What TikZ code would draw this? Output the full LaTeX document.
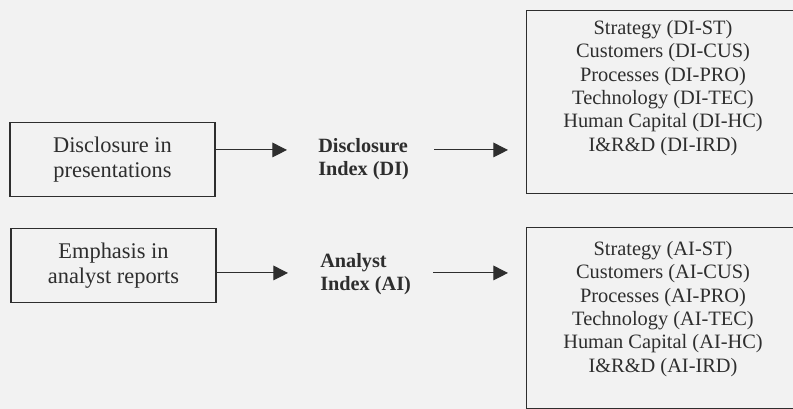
\documentclass[tikz,border=0pt]{standalone}
\usepackage{fontspec}
\setmainfont{Liberation Serif}
\usetikzlibrary{positioning,arrows.meta}
\definecolor{paper}{HTML}{F2F2F2}
\definecolor{ink}{HTML}{2E2E2E}

\begin{document}
\begin{tikzpicture}[x=0.75pt,y=-0.75pt,
    srcbox/.style={draw=ink,line width=1pt,minimum width=153.75pt,minimum height=55.5pt,
      align=center,inner sep=0pt,text=ink,font=\fontsize{16.8}{18.75}\selectfont},
    idx/.style={anchor=west,align=left,inner sep=0pt,text=ink,
      font=\fontsize{15.2}{17.6}\selectfont\bfseries},
    listbox/.style={draw=ink,line width=1pt,minimum width=225pt,inner sep=0pt},
    listtext/.style={align=center,inner sep=0pt,text=ink,
      font=\fontsize{15.3}{17.5}\selectfont},
    flow/.style={draw=ink,line width=0.8pt,-{Triangle[length=11pt,width=11pt]}}]
    \fill[paper] (0,0) rectangle (793,409);
    \useasboundingbox (0,0) rectangle (793,409);

    % sources
    \node[srcbox] (pres) at (112.5,159.7) {Disclosure in\\presentations};
    \node[srcbox] (rep) at (113.5,265.5) {Emphasis in\\analyst reports};

    % indices
    \node[idx] (di) at (318,159) {Disclosure\\Index (DI)};
    \node[idx] (ai) at (320,274) {Analyst\\Index (AI)};

    % components (boxes run off the right edge)
    \node[listbox,minimum height=137.25pt,anchor=north west] (dlist) at (526,10) {};
    \node[listtext] (ditems) at (663,20) [anchor=north] {Strategy (DI-ST)\\Customers (DI-CUS)\\Processes (DI-PRO)\\Technology (DI-TEC)\\Human Capital (DI-HC)\\I\&R\&D (DI-IRD)};
    \node[listbox,minimum height=135.75pt,anchor=north west] (alist) at (526,227) {};
    \node[listtext] (aitems) at (663,241) [anchor=north] {Strategy (AI-ST)\\Customers (AI-CUS)\\Processes (AI-PRO)\\Technology (AI-TEC)\\Human Capital (AI-HC)\\I\&R\&D (AI-IRD)};

    \draw[flow,shorten >=23.25pt] ([yshift=7.3pt]pres.east) -- ([yshift=7.3pt]pres.east -| di.west);
    \draw[flow,shorten >=24pt] ([yshift=-5.6pt]rep.east) -- ([yshift=-5.6pt]rep.east -| ai.west);
    \draw[flow,shorten <=18.75pt,shorten >=13.5pt] ([yshift=7.3pt]pres.east -| di.east) -- ([yshift=7.3pt]pres.east -| dlist.west);
    \draw[flow,shorten <=18pt,shorten >=13.5pt] ([yshift=-5.6pt]rep.east -| di.east) -- ([yshift=-5.6pt]rep.east -| alist.west);
\end{tikzpicture}
\end{document}
